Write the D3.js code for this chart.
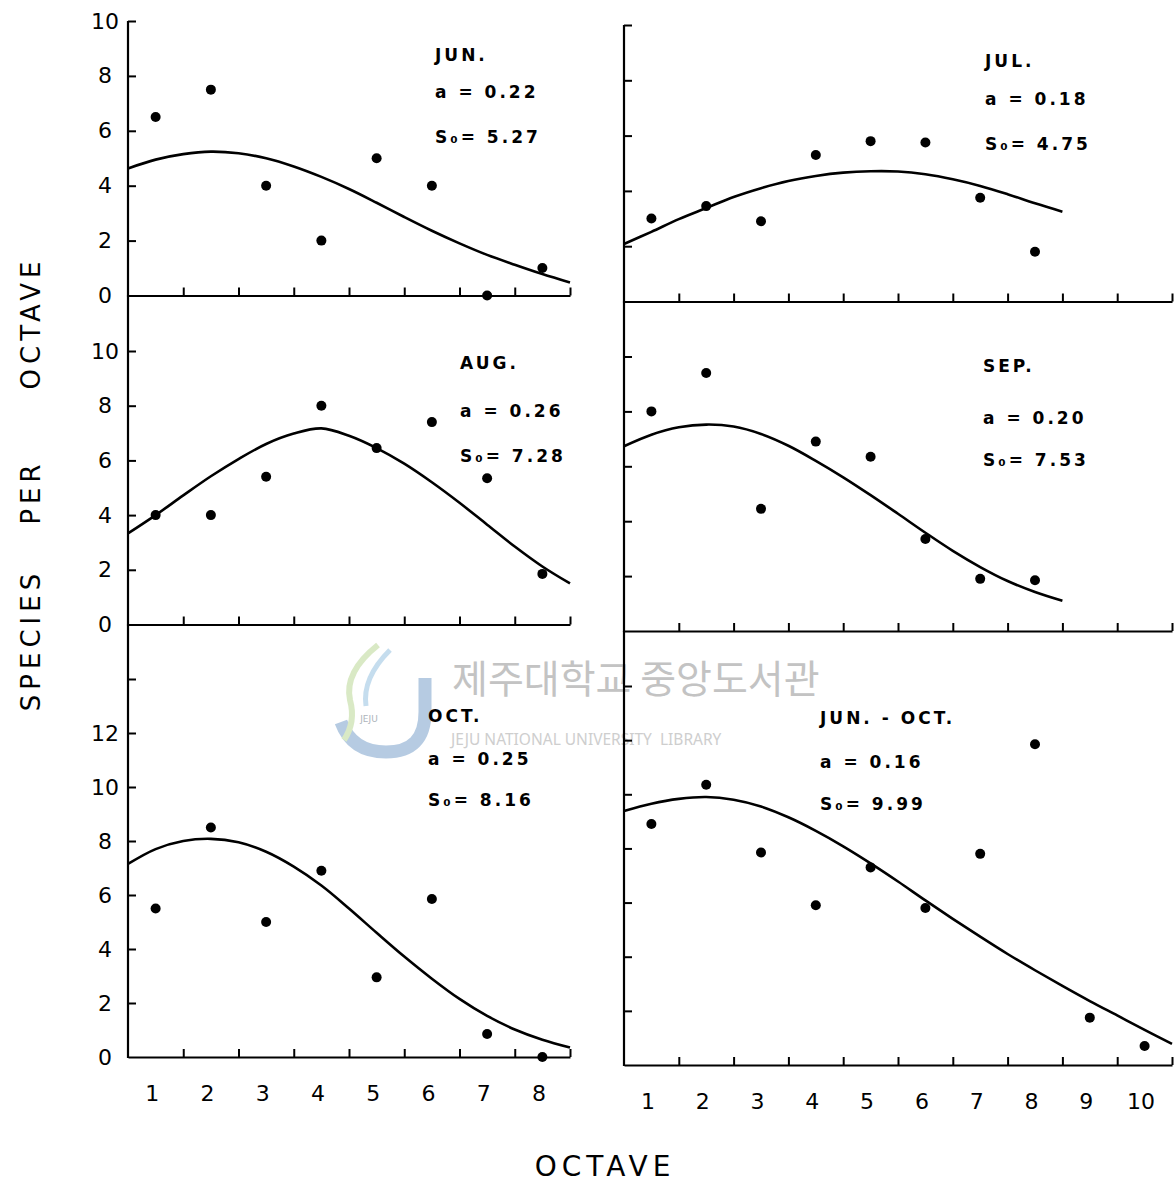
<!DOCTYPE html>
<html>
<head>
<meta charset="utf-8">
<script src="https://cdn.jsdelivr.net/npm/d3@7"></script>
<style>
  body { margin: 0; background: #fff; }
  svg { display: block; font-family: "DejaVu Sans", sans-serif; }
  .tick line { stroke: #000; stroke-width: 2; }
  .domain { stroke: #000; stroke-width: 2.2; }
  .yline { stroke: #000; stroke-width: 2.2; }
  .fit { fill: none; stroke: #000; stroke-width: 2.6; }
  .dot { fill: #000; }
  .num text { font-size: 22px; fill: #000; }
  .note { font-weight: bold; font-size: 17px; letter-spacing: 3px; fill: #000; }
</style>
</head>
<body>
<svg id="chart" width="1175" height="1183"></svg>
<script>
// octave classes
var octaves8 = [1, 2, 3, 4, 5, 6, 7, 8];
var octaves10 = [1, 2, 3, 4, 5, 6, 7, 8, 9, 10];

// y tick values / labels
var yTicks10 = [2, 4, 6, 8, 10];
var yTicks14 = [2, 4, 6, 8, 10, 12, 14];
var yLabels10 = [0, 2, 4, 6, 8, 10];
var yLabels12 = [0, 2, 4, 6, 8, 10, 12];

var fitX8 = [0, 0.5, 1, 1.5, 2, 2.5, 3, 3.5, 4, 4.5, 5, 5.5, 6, 6.5, 7, 7.5, 8];
var fitX10 = [0, 0.5, 1, 1.5, 2, 2.5, 3, 3.5, 4, 4.5, 5, 5.5, 6, 6.5, 7, 7.5, 8, 8.5, 9, 9.5, 10];

// observed species per octave
var junObs = [6.5, 7.5, 4.0, 2.0, 5.0, 4.0, 0, 1.0];
var julObs = [3.0, 3.45, 2.9, 5.3, 5.8, 5.75, 3.75, 1.8];
var augObs = [4.0, 4.0, 5.4, 8.0, 6.45, 7.4, 5.35, 1.85];
var sepObs = [8.0, 9.4, 4.45, 6.9, 6.35, 3.35, 1.9, 1.85];
var octObs = [5.5, 8.5, 5.0, 6.9, 2.95, 5.85, 0.85, 0];
var allObs = [8.9, 10.35, 7.85, 5.9, 7.3, 5.8, 7.8, 11.85, 1.75, 0.7];

// fitted lognormal curves
var junFit = [4.63, 4.95, 5.15, 5.24, 5.18, 5.0, 4.7, 4.32, 3.88, 3.38, 2.86, 2.36, 1.9, 1.48, 1.12, 0.78, 0.47];
var julFit = [2.08, 2.52, 2.98, 3.38, 3.78, 4.1, 4.36, 4.54, 4.66, 4.71, 4.7, 4.6, 4.42, 4.18, 3.88, 3.55, 3.25];
var augFit = [3.33, 4.0, 4.72, 5.42, 6.05, 6.6, 6.98, 7.17, 6.9, 6.45, 5.88, 5.2, 4.45, 3.65, 2.85, 2.12, 1.5];
var sepFit = [6.73, 7.15, 7.42, 7.52, 7.45, 7.18, 6.75, 6.2, 5.6, 4.95, 4.27, 3.58, 2.92, 2.33, 1.82, 1.42, 1.1];
var octFit = [7.15, 7.7, 8.0, 8.08, 7.95, 7.6, 7.05, 6.35, 5.5, 4.6, 3.72, 2.9, 2.15, 1.52, 1.02, 0.64, 0.35];
var allFit = [9.38, 9.65, 9.83, 9.9, 9.8, 9.55, 9.15, 8.65, 8.08, 7.45, 6.78, 6.08, 5.4, 4.74, 4.1, 3.5, 2.92, 2.36, 1.83, 1.3, 0.78];

// panel captions
var months = ["JUN.", "JUL.", "AUG.", "SEP.", "OCT.", "JUN. - OCT."];
var alphas = ["0.22", "0.18", "0.26", "0.20", "0.25", "0.16"];
var s0s = ["5.27", "4.75", "7.28", "7.53", "8.16", "9.99"];

var svg = d3.select("#chart");

// library watermark of the scan
var wm = svg.append("g").attr("opacity", 0.85);
wm.append("path").attr("d", "M425,678 L425,712 Q425,752 386,752 Q352,752 341,722")
  .attr("fill", "none").attr("stroke", "#aac3de").attr("stroke-width", 13);
wm.append("path").attr("d", "M378,645 Q344,672 350,700 Q356,722 344,740")
  .attr("fill", "none").attr("stroke", "#d3e6bb").attr("stroke-width", 6);
wm.append("path").attr("d", "M390,650 Q362,678 366,706")
  .attr("fill", "none").attr("stroke", "#bcd8ec").attr("stroke-width", 5);
wm.append("text").attr("x", 369).attr("y", 722).attr("text-anchor", "middle")
  .style("font-size", "9px").style("fill", "#a0a8b0").text("JEJU");
wm.append("text").attr("x", 452).attr("y", 693)
  .style("font-family", "'Noto Sans CJK KR', sans-serif").style("font-size", "39px")
  .style("fill", "#b9b9b9").text("제주대학교 중앙도서관");
wm.append("text").attr("x", 451).attr("y", 745).attr("xml:space", "preserve")
  .style("font-family", "'Noto Sans', sans-serif").style("font-size", "15.5px")
  .style("fill", "#c6c6c6").text("JEJU NATIONAL UNIVERSITY  LIBRARY");

var panels = [
  {obs: junObs, fit: junFit, fitX: fitX8},
  {obs: julObs, fit: julFit, fitX: fitX8},
  {obs: augObs, fit: augFit, fitX: fitX8},
  {obs: sepObs, fit: sepFit, fitX: fitX8},
  {obs: octObs, fit: octFit, fitX: fitX8},
  {obs: allObs, fit: allFit, fitX: fitX10}
];

// geometry of each panel (pixels)
var geo = [
  {x0: 128, x1: 570, nOct: 8, zero: 295.5, top: 21, yMax: 10, axisTop: 21, note: [435, 61, 98, 143]},
  {x0: 624, x1: 1172, nOct: 10, zero: 301.5, top: 25, yMax: 10, axisTop: 25, note: [985, 67, 105, 150]},
  {x0: 128, x1: 570, nOct: 8, zero: 624.5, top: 351, yMax: 10, axisTop: 295.5, note: [460, 369, 417, 462]},
  {x0: 624, x1: 1172, nOct: 10, zero: 631, top: 356.5, yMax: 10, axisTop: 301.5, note: [983, 372, 424, 466]},
  {x0: 128, x1: 570, nOct: 8, zero: 1057, top: 679, yMax: 14, axisTop: 624.5, note: [428, 722, 765, 806]},
  {x0: 624, x1: 1172, nOct: 10, zero: 1065, top: 686, yMax: 14, axisTop: 631, note: [820, 724, 768, 810]}
];

panels.forEach(function(p, i) {
  var g = geo[i];
  var left = (i % 2 === 0), bottom = (i >= 4);
  var octs = g.nOct === 8 ? octaves8 : octaves10;

  var x = d3.scaleLinear().domain([0, g.nOct]).range([g.x0, g.x1]);
  var y = d3.scaleLinear().domain([0, g.yMax]).range([g.zero, g.top]);

  var pg = svg.append("g");

  // y axis line (runs up to the panel above)
  pg.append("line").attr("class", "yline")
    .attr("x1", g.x0).attr("x2", g.x0)
    .attr("y1", g.zero + 1).attr("y2", g.axisTop);

  var yAx = pg.append("g").attr("transform", "translate(" + g.x0 + ",0)")
    .call(d3.axisRight(y).tickValues(bottom ? yTicks14 : yTicks10)
      .tickSize(8).tickSizeOuter(0).tickFormat(""));
  yAx.select(".domain").remove();

  if (left) {
    var yLab = pg.append("g").attr("class", "num")
      .attr("transform", "translate(" + g.x0 + ",0)")
      .call(d3.axisLeft(y).tickValues(bottom ? yLabels12 : yLabels10).tickSize(0).tickPadding(0));
    yLab.select(".domain").remove();
    yLab.selectAll("text").attr("x", -23).attr("text-anchor", "middle")
      .style("font-family", "DejaVu Sans, sans-serif");
  }

  // x axis with upward ticks at octave boundaries
  pg.append("g").attr("transform", "translate(0," + g.zero + ")")
    .call(d3.axisBottom(x).tickValues(octs).tickSize(-8).tickSizeOuter(0).tickFormat(""));

  if (bottom) {
    var xLab = pg.append("g").attr("class", "num")
      .attr("transform", "translate(-4," + (g.zero + 28) + ")")
      .call(d3.axisBottom(x).tickValues(octs.map(function(o) { return o - 0.5; }))
        .tickSize(0).tickPadding(0).tickFormat(function(d) { return d + 0.5; }));
    xLab.select(".domain").remove();
    xLab.selectAll("text").style("font-family", "DejaVu Sans, sans-serif");
  }

  // fitted curve
  var line = d3.line()
    .x(function(d) { return x(d[0]); })
    .y(function(d) { return y(d[1]); })
    .curve(d3.curveCatmullRom);
  pg.append("path").datum(d3.zip(p.fitX, p.fit)).attr("class", "fit").attr("d", line);

  // observed points, centred in each octave
  pg.selectAll(".dot").data(p.obs).enter().append("circle")
    .attr("class", "dot")
    .attr("cx", function(d, k) { return x(k + 0.5); })
    .attr("cy", function(d) { return y(d); })
    .attr("r", 5);

  // caption
  var n = g.note;
  pg.append("text").attr("class", "note").attr("x", n[0]).attr("y", n[1]).text(months[i]);
  pg.append("text").attr("class", "note").attr("x", n[0]).attr("y", n[2]).text("a = " + alphas[i]);
  pg.append("text").attr("class", "note").attr("x", n[0]).attr("y", n[3]).text("S\u2080= " + s0s[i]);
});

// axis titles
var ytitle = svg.append("g").style("font-size", "26px").style("letter-spacing", "5px");
[["OCTAVE", 323], ["PER", 492], ["SPECIES", 640]].forEach(function(w) {
  ytitle.append("text")
    .attr("transform", "translate(40," + w[1] + ") rotate(-90)")
    .attr("text-anchor", "middle").text(w[0]);
});

svg.append("text").attr("x", 605).attr("y", 1176).attr("text-anchor", "middle")
  .style("font-size", "28px").style("letter-spacing", "5px").text("OCTAVE");
</script>
</body>
</html>
